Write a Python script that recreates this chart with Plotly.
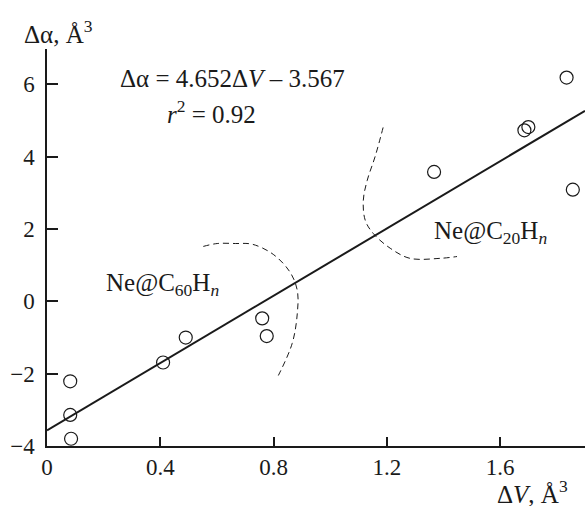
import plotly.graph_objects as go

# ---- data ----
dV = [0.082, 0.082, 0.085, 0.41, 0.49, 0.76, 0.776, 1.367, 1.686, 1.70, 1.835, 1.857]
dAlpha = [-2.21, -3.14, -3.80, -1.69, -1.00, -0.47, -0.96, 3.58, 4.73, 4.82, 6.19, 3.09]

slope = 4.652
intercept = -3.567
fit_x = [0.0, 1.90]

# dashed boundary arcs (data coordinates)
arc60_x = [0.552, 0.601, 0.665, 0.725, 0.799, 0.859, 0.884, 0.884, 0.866, 0.817]
arc60_y = [1.52, 1.60, 1.60, 1.58, 1.30, 0.80, 0.30, -0.33, -1.16, -2.05]
arc20_x = [1.187, 1.159, 1.131, 1.117, 1.124, 1.152, 1.212, 1.282, 1.388, 1.448]
arc20_y = [4.81, 4.01, 3.35, 2.79, 2.24, 1.88, 1.47, 1.19, 1.19, 1.24]

x_ticks = [0, 0.4, 0.8, 1.2, 1.6]
x_ticktext = ["0", "0.4", "0.8", "1.2", "1.6"]
y_ticks = [-4, -2, 0, 2, 4, 6]
y_ticktext = ["\u22124", "\u22122", "0", "2", "4", "6"]

FONT = "Liberation Serif"
INK = "#1a1a1a"
FS = 25
TFS = 23

fig = go.Figure()

fig.add_trace(go.Scatter(
    x=fit_x, y=[slope * v + intercept for v in fit_x],
    mode="lines", line=dict(color=INK, width=2), hoverinfo="skip"))

fig.add_trace(go.Scatter(
    x=arc60_x, y=arc60_y, mode="lines",
    line=dict(color=INK, width=1, dash="6px,4px", shape="spline"), hoverinfo="skip"))
fig.add_trace(go.Scatter(
    x=arc20_x, y=arc20_y, mode="lines",
    line=dict(color=INK, width=1, dash="6px,4px", shape="spline"), hoverinfo="skip"))

fig.add_trace(go.Scatter(
    x=dV, y=dAlpha, mode="markers",
    marker=dict(symbol="circle-open", size=13, color=INK, line=dict(width=1.2, color=INK))))

fig.update_layout(
    width=585, height=506,
    margin=dict(l=47, r=0, t=49, b=60),
    paper_bgcolor="white", plot_bgcolor="white",
    showlegend=False,
    font=dict(family=FONT, size=FS, color=INK),
    xaxis=dict(
        range=[0, 1.90], tickvals=x_ticks, ticktext=x_ticktext,
        showgrid=False, zeroline=False, showline=True, linecolor=INK, linewidth=1.5,
        ticks="inside", ticklen=9, tickwidth=1.5, tickcolor=INK,
        tickfont=dict(family=FONT, size=TFS, color=INK)),
    yaxis=dict(
        range=[-4, 6.98], tickvals=y_ticks, ticktext=y_ticktext,
        showgrid=False, zeroline=False, showline=True, linecolor=INK, linewidth=1.5,
        ticks="inside", ticklen=11, tickwidth=1.5, tickcolor=INK,
        ticklabelstandoff=6,
        tickfont=dict(family=FONT, size=TFS, color=INK)),
    annotations=[
        dict(x=0.654, y=6.17, xref="x", yref="y", showarrow=False,
             text="\u0394\u03b1 = 4.652\u0394<i>V</i> \u2013 3.567",
             font=dict(family=FONT, size=FS, color=INK)),
        dict(x=0.58, y=5.23, xref="x", yref="y", showarrow=False,
             text="<i>r</i><sup>2</sup> = 0.92",
             font=dict(family=FONT, size=FS, color=INK)),
        dict(x=0.407, y=0.47, xref="x", yref="y", showarrow=False,
             text="Ne@C<sub>60</sub>H<sub><i>n</i></sub>",
             font=dict(family=FONT, size=FS, color=INK)),
        dict(x=1.565, y=1.91, xref="x", yref="y", showarrow=False,
             text="Ne@C<sub>20</sub>H<sub><i>n</i></sub>",
             font=dict(family=FONT, size=FS, color=INK)),
        dict(x=-0.046, y=1.043, xref="paper", yref="paper", xanchor="left", yanchor="middle",
             showarrow=False, text="\u0394\u03b1, \u00c5<sup>3</sup>",
             font=dict(family=FONT, size=FS, color=INK)),
        dict(x=0.972, y=-0.115, xref="paper", yref="paper", xanchor="right", yanchor="middle",
             showarrow=False, text="\u0394<i>V</i>, \u00c5<sup>3</sup>",
             font=dict(family=FONT, size=FS, color=INK)),
    ],
)

fig.write_html("out.html")
